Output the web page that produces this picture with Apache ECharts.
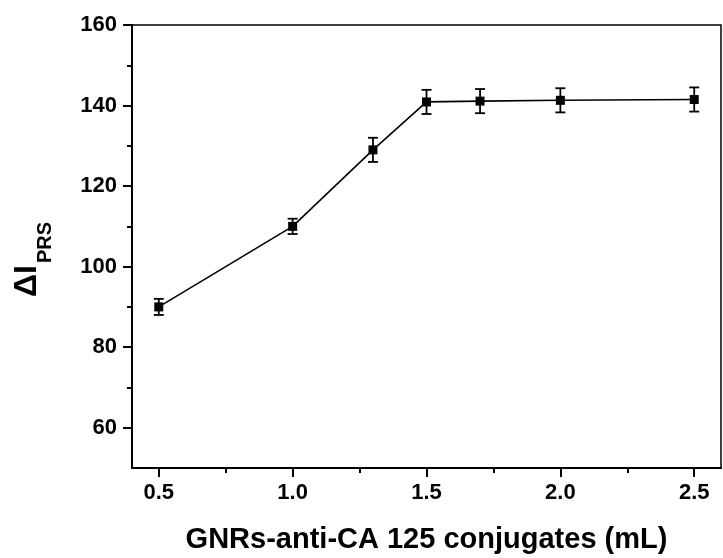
<!DOCTYPE html>
<html>
<head>
<meta charset="utf-8">
<script src="https://cdn.jsdelivr.net/npm/echarts@6/dist/echarts.min.js"></script>
<style>
html,body{margin:0;padding:0;background:#fff;}
#c{width:723px;height:558px;}
</style>
</head>
<body>
<div id="c"></div>
<script>
// Data
const xValues = [0.5, 1.0, 1.3, 1.5, 1.7, 2.0, 2.5];
const yValues = [90, 110, 129, 140.9, 141.1, 141.3, 141.5];
const yErrors = [2, 1.9, 3, 3, 3, 3, 3];
const xMajorTicks = [0.5, 1.0, 1.5, 2.0, 2.5];
const xMinorTicks = [0.75, 1.25, 1.75, 2.25];
const yMajorTicks = [60, 80, 100, 120, 140, 160];
const yMinorTicks = [70, 90, 110, 130, 150];
const xTitle = 'GNRs-anti-CA 125 conjugates (mL)';

const FONT = '"Liberation Sans", Arial, sans-serif';
const chart = echarts.init(document.getElementById('c'), null, {renderer: 'canvas'});

const points = xValues.map((x, i) => [x, yValues[i]]);
const errData = xValues.map((x, i) => [x, yValues[i] - yErrors[i], yValues[i] + yErrors[i]]);

const axisCommon = {
  type: 'value',
  min: 0.4, max: 2.6,
  splitLine: {show: false},
  axisLine: {show: true, lineStyle: {color: '#000', width: 2}}
};

chart.setOption({
  animation: false,
  backgroundColor: '#fff',
  grid: {left: 132, top: 25, right: 2, bottom: 90, outerBoundsMode: 'none', containLabel: false,
    show: true, borderColor: '#000', borderWidth: 1.5, backgroundColor: 'transparent'},
  xAxis: [
    Object.assign({}, axisCommon, {
      position: 'bottom',
      name: xTitle,
      nameLocation: 'middle',
      nameGap: 57,
      nameTextStyle: {fontFamily: FONT, fontWeight: 'bold', fontSize: 29, color: '#000'},
      axisTick: {show: true, inside: false, length: 9, lineStyle: {color: '#000', width: 2}, customValues: xMajorTicks},
      axisLabel: {show: true, margin: 14, fontFamily: FONT, fontWeight: 'bold', fontSize: 22, color: '#000',
        customValues: xMajorTicks, formatter: v => v.toFixed(1)}
    }),
    Object.assign({}, axisCommon, {
      position: 'bottom', offset: 0,
      axisTick: {show: true, inside: false, length: 5, lineStyle: {color: '#000', width: 2}, customValues: xMinorTicks},
      axisLabel: {show: false}
    })
  ],
  yAxis: [
    {
      type: 'value', min: 50, max: 160, position: 'left',
      splitLine: {show: false},
      axisLine: {show: true, lineStyle: {color: '#000', width: 2}},
      axisTick: {show: true, inside: false, length: 9, lineStyle: {color: '#000', width: 2}, customValues: yMajorTicks},
      axisLabel: {show: true, margin: 15, fontFamily: FONT, fontWeight: 'bold', fontSize: 22, color: '#000',
        customValues: yMajorTicks}
    },
    {
      type: 'value', min: 50, max: 160, position: 'left', offset: 0,
      splitLine: {show: false},
      axisLine: {show: true, lineStyle: {color: '#000', width: 2}},
      axisTick: {show: true, inside: false, length: 5, lineStyle: {color: '#000', width: 2}, customValues: yMinorTicks},
      axisLabel: {show: false}
    }
  ],
  graphic: [{
    type: 'group',
    x: 0, y: 297,
    rotation: Math.PI / 2,
    children: [
      {type: 'text', x: 0, y: 27.5, style: {text: 'ΔI', font: 'bold 32px ' + FONT, fill: '#000', textAlign: 'left', textVerticalAlign: 'middle'}},
      {type: 'text', x: 34, y: 45.5, style: {text: 'PRS', font: 'bold 20px ' + FONT, fill: '#000', textAlign: 'left', textVerticalAlign: 'middle'}}
    ]
  }],
  series: [
    {
      type: 'custom',
      xAxisIndex: 0, yAxisIndex: 0,
      data: errData,
      z: 2,
      renderItem: function (params, api) {
        const x = api.value(0);
        const lo = api.coord([x, api.value(1)]);
        const hi = api.coord([x, api.value(2)]);
        const hw = 5;
        const st = {stroke: '#000', lineWidth: 1.8};
        return {
          type: 'group',
          children: [
            {type: 'line', shape: {x1: lo[0], y1: lo[1], x2: hi[0], y2: hi[1]}, style: st},
            {type: 'line', shape: {x1: lo[0] - hw, y1: lo[1], x2: lo[0] + hw, y2: lo[1]}, style: st},
            {type: 'line', shape: {x1: hi[0] - hw, y1: hi[1], x2: hi[0] + hw, y2: hi[1]}, style: st}
          ]
        };
      }
    },
    {
      type: 'line',
      xAxisIndex: 0, yAxisIndex: 0,
      data: points,
      z: 3,
      symbol: 'rect',
      symbolSize: 9,
      showAllSymbol: true,
      itemStyle: {color: '#000', borderWidth: 0},
      lineStyle: {color: '#000', width: 1.6}
    }
  ]
});
</script>
</body>
</html>
